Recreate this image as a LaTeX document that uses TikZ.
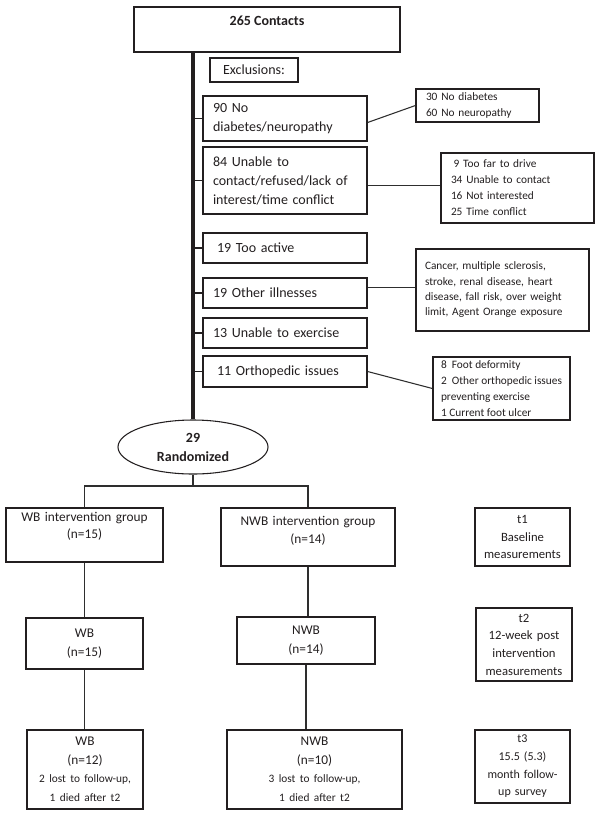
\documentclass[tikz,border=0pt]{standalone}
\usepackage{fontspec}
\setmainfont{Carlito}
\usetikzlibrary{calc,positioning,shapes.geometric}
\definecolor{csInk}{HTML}{231F20}
\definecolor{csRule}{HTML}{2E2E2E}
\newcommand\cspx{0.75pt}
\tikzset{
  cs canvas/.style={fill=white},
  cs box/.style={
    draw=csInk,
    line width=.9pt,
    inner sep=0pt,
    text=csInk
  },
  cs size/.style 2 args={minimum width=#1*\cspx, minimum height=#2*\cspx},
  cs exclusion/.style={
    cs box,
    text width=144*\cspx,
    align=left,
    font=\fontsize{10.5}{14.25}\selectfont
  },
  cs detail/.style={
    cs box,
    align=left,
    font=\fontsize{8.5}{12}\selectfont
  },
  cs group/.style={
    cs box,
    align=center,
    font=\fontsize{10}{14.25}\selectfont
  },
  cs time/.style={
    cs box,
    text width=90*\cspx,
    align=center,
    font=\fontsize{9.5}{13.25}\selectfont
  },
  cs trunk/.style={draw=csInk, line width=2.4pt},
  cs tick/.style={draw=csInk, line width=1pt},
  cs link/.style={draw=csRule, line width=.8pt}
}

\begin{document}
\begin{tikzpicture}[x=0.75pt,y=-0.75pt]
  \path[cs canvas] (0,0) rectangle (600,815);

  \node[cs box, cs size={266}{45}, font=\bfseries\fontsize{10.5}{14.25}\selectfont,
    text height=14pt, text depth=19.75pt] (contacts) at (267,29.5) {265 Contacts};
  \node[cs box, cs size={88}{24}, font=\fontsize{10.5}{14.25}\selectfont]
    (excl) at (254,70) {Exclusions:};

  \node[cs exclusion, cs size={164}{45}] (nodiab) at (285,118.5) {90 No\\diabetes/neuropathy};
  \node[cs exclusion, cs size={164}{67}] (unable) at (285,180.5)
    {84 Unable to\\contact/refused/lack of\\interest/time conflict};
  \node[cs exclusion, cs size={164}{30}] (active) at (285,248) {\hspace*{3pt}19 Too active};
  \node[cs exclusion, cs size={164}{30}] (illness) at (285,293) {19 Other illnesses};
  \node[cs exclusion, cs size={164}{30}] (noexer) at (285,333) {13 Unable to exercise};
  \node[cs exclusion, cs size={164}{31}] (ortho) at (285,371.5) {\hspace*{3pt}11 Orthopedic issues};

  \node[cs detail, cs size={123}{33}, text width=103*\cspx] (nodiabList) at (477.5,105.5)
    {30 No diabetes\\60 No neuropathy};
  \node[cs detail, cs size={153}{70}, text width=133*\cspx] (unableList) at (517.5,188)
    {\hspace*{2pt}9 Too far to drive\\34 Unable to contact\\16 Not interested\\25 Time conflict};
  \node[cs detail, cs size={173}{82}, text width=155*\cspx,
    font=\fontsize{8.5}{11.5}\selectfont] (illnessList) at (502.5,290)
    {Cancer, multiple sclerosis,\\stroke, renal disease, heart\\disease, fall risk, over weight\\limit, Agent Orange exposure};
  \node[cs detail, cs size={137}{63}] (orthoList) at (501.5,388.5)
    {8~~Foot deformity\\2~~Other orthopedic issues\\preventing exercise\\1 Current foot ulcer};

  \node[cs box, ellipse, cs size={150}{54}, line width=.8pt, align=center,
    font=\bfseries\fontsize{10.5}{14.25}\selectfont] (rand) at (193,447) {29\\Randomized};

  \draw[cs trunk] (contacts.south -| rand.north) -- (rand.north);
  \foreach \b in {nodiab,unable,active,illness,noexer,ortho}
    \draw[cs tick] (\b.west -| rand.north) -- (\b.west);

  \draw[cs link] ([yshift=-3pt]nodiab.east) -- (nodiabList.west);
  \draw[cs link] ([yshift=-3.4pt]unable.east) -- ([yshift=-3.4pt]unable.east -| unableList.west);
  \draw[cs link] ([yshift=4pt]illness.east) -- ([yshift=4pt]illness.east -| illnessList.west);
  \draw[cs link] (ortho.east) -- (orthoList.west);

  % groups and time points
  \node[cs group, cs size={157}{54}, text width=150*\cspx, font=\fontsize{10}{12.75}\selectfont,
    text height=9.75pt, text depth=30.75pt] (wbGroup) at (84.5,535)
    {WB intervention group\\(n=15)};
  \node[cs group, cs size={174}{58}, text width=165*\cspx, font=\fontsize{10}{13.5}\selectfont,
    text height=12.75pt, text depth=30.75pt] (nwbGroup) at (308,537)
    {NWB intervention group\\(n=14)};
  \node[cs time, cs size={95}{58}] (tBase) at (522.5,537) {t1\\Baseline\\measurements};

  \node[cs group, cs size={117}{51}, text width=110*\cspx] (wbPost) at (84.5,643.5) {WB\\(n=15)};
  \node[cs group, cs size={138}{47}, text width=130*\cspx] (nwbPost) at (306,640.5) {NWB\\(n=14)};
  \node[cs time, cs size={96}{73}] (tPost) at (524,644.5)
    {t2\\12-week post\\intervention\\measurements};

  \node[cs group, cs size={116}{79}, text width=110*\cspx] (wbFollow) at (85,769.5)
    {WB\\(n=12)\par\vspace{2.25pt}\fontsize{8.5}{11.25}\selectfont
     2 lost to follow-up,\\1 died after t2};
  \node[cs group, cs size={175}{79}, text width=165*\cspx] (nwbFollow) at (314.5,769.5)
    {NWB\\(n=10)\par\vspace{2.25pt}\fontsize{8.5}{11.25}\selectfont
     3 lost to follow-up,\\1 died after t2};
  \node[cs time, cs size={95}{73}, font=\fontsize{9}{13.25}\selectfont] (tFollow) at (522.5,766.5)
    {t3\\15.5 (5.3)\\month follow-\\up survey};

  \coordinate (split) at (193,486);
  \draw[cs link] (rand.south) -- (split);
  \draw[cs link] (wbGroup.north) |- (split) -| (nwbGroup.north);
  \draw[cs link] (wbGroup.south) -- (wbGroup.south |- wbPost.north);
  \draw[cs link] (wbPost.south) -- (wbPost.south |- wbFollow.north);
  \draw[cs link] (nwbGroup.south) -- (nwbGroup.south |- nwbPost.north);
  \draw[cs link] (nwbPost.south) -- (nwbPost.south |- nwbFollow.north);
\end{tikzpicture}
\end{document}
